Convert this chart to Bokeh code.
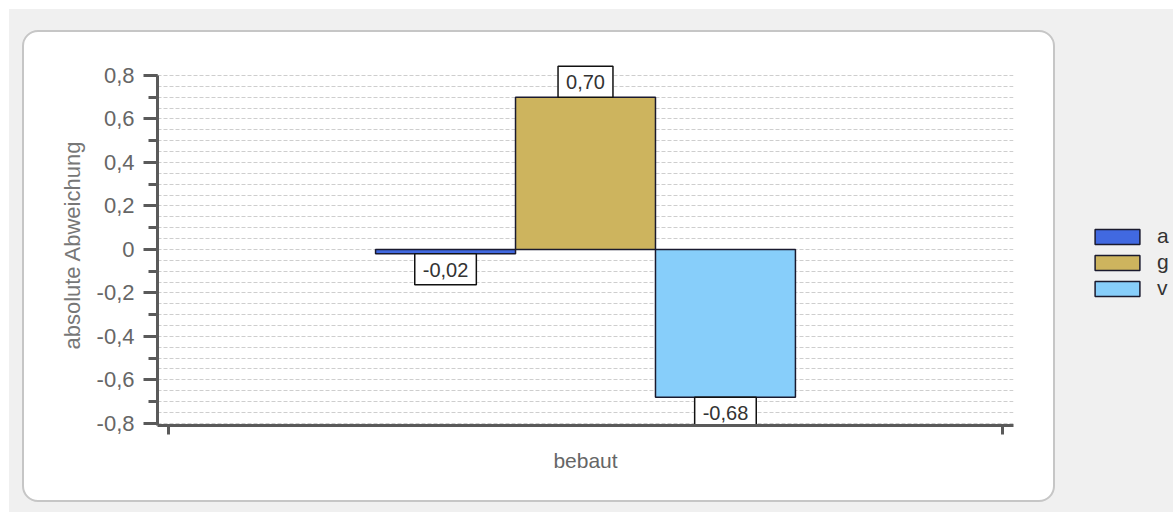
from bokeh.plotting import figure
from bokeh.models import (ColumnDataSource, FixedTicker, SingleIntervalTicker, CustomJSTickFormatter,
                          Legend, LegendItem, Range1d, InlineStyleSheet)
from bokeh.core.properties import value
from bokeh.embed import file_html
from bokeh.resources import INLINE

# ---- data ----
category = "bebaut"
series = ["a", "g", "v"]
values = [-0.02, 0.70, -0.68]
colors = ["#4169E1", "#CDB45E", "#87CEFA"]
y_ticks_interval = 0.2

FONT = "Liberation Sans"

bar_w = 0.327
xs = [(i - 1) * bar_w for i in range(len(series))]
labels = [f"{v:.2f}".replace(".", ",") for v in values]

p = figure(frame_width=856, frame_height=361, output_backend="svg", toolbar_location=None,
           x_range=Range1d(-1, 1), y_range=Range1d(-0.81, 0.8506),
           min_border_left=148, min_border_right=160, min_border_top=55, min_border_bottom=87)
p.margin = (9, 0, 0, 9)
p.border_fill_alpha = 0
p.background_fill_color = "white"
p.outline_line_color = None

# rounded white panel behind the canvas (page chrome)
p.stylesheets = [InlineStyleSheet(css="""
:host { background: #f0f0f0; position: relative; z-index: 0; }
:host::before { content: ""; position: absolute; left: 13px; top: 21px; width: 1033px; height: 472px;
  box-sizing: border-box; border: 2px solid #c6c6c6; border-radius: 16px; background: #ffffff; z-index: -1; }
""")]

# grid
p.xgrid.visible = False
p.ygrid.ticker = FixedTicker(ticks=[round(-0.8 + 0.05 * k, 2) for k in range(33)])
p.ygrid.grid_line_color = "#cecece"
p.ygrid.grid_line_dash = "4 2"
p.ygrid.grid_line_width = 1

renderers = []
for i, s in enumerate(series):
    src = ColumnDataSource(dict(x=[xs[i]], top=[values[i]]))
    r = p.vbar(x="x", top="top", bottom=0, width=bar_w, source=src,
               fill_color=colors[i], line_color="#1a1a2e", line_width=1.5)
    renderers.append(r)

lsrc = ColumnDataSource(dict(x=xs, y=values, t=labels,
                             anchor=["top_center" if v < 0 else "bottom_center" for v in values]))
p.text(x="x", y="y", text="t", source=lsrc, anchor="anchor",
       text_font=value(FONT), text_font_size="20px", text_color="#333333",
       background_fill_color="white", border_line_color="#111111", border_line_width=1.5,
       padding=dict(left=8, right=8, top=9, bottom=8))

# y axis
yax = p.yaxis[0]
yax.bounds = (-0.81, 0.8)
yax.ticker = SingleIntervalTicker(interval=y_ticks_interval, num_minor_ticks=2)
yax.formatter = CustomJSTickFormatter(code="""
if (Math.abs(tick) < 1e-9) return "0";
return tick.toFixed(1).replace('.', ',');
""")
yax.axis_label = "absolute Abweichung"
yax.axis_label_text_font = FONT
yax.axis_label_text_font_size = "22px"
yax.axis_label_text_font_style = "normal"
yax.axis_label_text_color = "#777777"
yax.axis_label_standoff = 9
yax.major_label_text_font = FONT
yax.major_label_text_font_size = "22px"
yax.major_label_text_color = "#666666"
yax.major_label_standoff = 9
yax.axis_line_color = "#5a5a5a"
yax.axis_line_width = 3
yax.major_tick_line_color = "#5a5a5a"
yax.major_tick_line_width = 3
yax.major_tick_out = 14
yax.major_tick_in = 0
yax.minor_tick_line_color = "#5a5a5a"
yax.minor_tick_line_width = 3
yax.minor_tick_out = 9
yax.minor_tick_in = 0

# x axis
xax = p.xaxis[0]
xax.ticker = FixedTicker(ticks=[-0.975, 0.975])
xax.major_label_overrides = {-0.975: "", 0.975: ""}
xax.major_label_text_font_size = "14px"
xax.axis_label = category
xax.axis_label_text_font = FONT
xax.axis_label_text_font_size = "21px"
xax.axis_label_text_font_style = "normal"
xax.axis_label_text_color = "#666666"
xax.axis_label_standoff = 14
xax.axis_line_color = "#5a5a5a"
xax.axis_line_width = 3
xax.major_tick_line_color = "#5a5a5a"
xax.major_tick_line_width = 3
xax.major_tick_out = 9
xax.major_tick_in = 0
xax.minor_tick_line_color = None

legend = Legend(items=[LegendItem(label=s, renderers=[r]) for s, r in zip(series, renderers)],
                location=(76, 125), padding=0, margin=0, spacing=2,
                glyph_width=56, glyph_height=19, label_height=15, label_standoff=12,
                label_text_font=FONT, label_text_font_size="21px", label_text_color="#333333",
                border_line_color=None, background_fill_alpha=0)
p.add_layout(legend, "right")

open("out.html", "w").write(file_html(p, INLINE))
